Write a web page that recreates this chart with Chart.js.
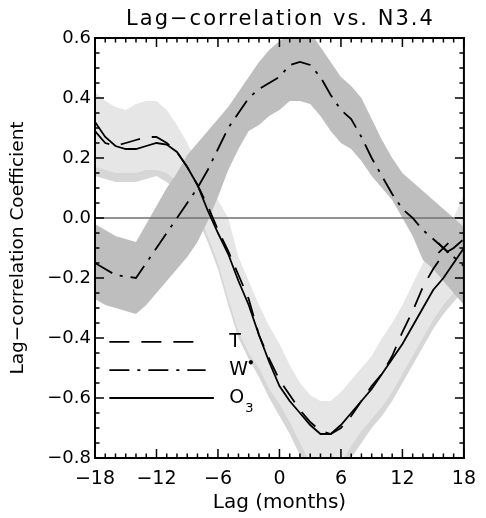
<!DOCTYPE html>
<html>
<head>
<meta charset="utf-8">
<script src="https://cdn.jsdelivr.net/npm/chart.js@4.4.1/dist/chart.umd.min.js"></script>
<style>
  html, body { margin: 0; padding: 0; background: #fff; }
  #wrap { width: 486px; height: 518px; }
</style>
</head>
<body>
<div id="wrap"><canvas id="lagChart"></canvas></div>
<script>
// lag in months
const lags = [-18, -17, -16, -15, -14, -13, -12, -11, -10, -9, -8, -7, -6, -5, -4, -3, -2, -1, 0,
  1, 2, 3, 4, 5, 6, 7, 8, 9, 10, 11, 12, 13, 14, 15, 16, 17, 18];

// lag-correlation coefficients
const tCorr = [0.29, 0.25, 0.24, 0.25, 0.26, 0.27, 0.27, 0.25, 0.22, 0.17, 0.11, 0.04, -0.04, -0.11, -0.19, -0.27, -0.39, -0.47, -0.54,
  -0.59, -0.64, -0.68, -0.71, -0.72, -0.70, -0.66, -0.61, -0.56, -0.52, -0.46, -0.38, -0.31, -0.23, -0.17, -0.12, -0.10, -0.07];
const wCorr = [-0.15, -0.17, -0.19, -0.195, -0.20, -0.15, -0.10, -0.05, 0.00, 0.05, 0.10, 0.16, 0.23, 0.30, 0.35, 0.40, 0.43, 0.45, 0.47,
  0.51, 0.52, 0.51, 0.47, 0.41, 0.36, 0.33, 0.27, 0.20, 0.14, 0.08, 0.03, 0.00, -0.04, -0.07, -0.10, -0.13, -0.16];
const o3Corr = [0.32, 0.27, 0.24, 0.23, 0.23, 0.24, 0.25, 0.245, 0.22, 0.17, 0.11, 0.025, -0.05, -0.12, -0.21, -0.29, -0.39, -0.48, -0.56,
  -0.61, -0.65, -0.69, -0.72, -0.72, -0.69, -0.65, -0.61, -0.57, -0.52, -0.47, -0.42, -0.36, -0.30, -0.24, -0.20, -0.15, -0.10];

// uncertainty bands
const wHigh = [-0.02, -0.04, -0.06, -0.07, -0.08, -0.02, 0.04, 0.10, 0.15, 0.21, 0.25, 0.29, 0.33, 0.37, 0.42, 0.47, 0.52, 0.56, 0.59,
  0.61, 0.63, 0.62, 0.57, 0.52, 0.47, 0.44, 0.40, 0.33, 0.26, 0.20, 0.15, 0.12, 0.09, 0.06, 0.03, 0.00, -0.03];
const wLow = [-0.27, -0.29, -0.30, -0.31, -0.32, -0.29, -0.25, -0.21, -0.17, -0.13, -0.08, -0.01, 0.07, 0.16, 0.23, 0.29, 0.31, 0.34, 0.36,
  0.39, 0.39, 0.38, 0.34, 0.29, 0.25, 0.23, 0.19, 0.14, 0.10, 0.06, 0.00, -0.06, -0.14, -0.17, -0.21, -0.25, -0.29];
const tHigh = [0.42, 0.39, 0.37, 0.36, 0.38, 0.39, 0.39, 0.36, 0.31, 0.25, 0.18, 0.12, 0.06, 0.00, -0.13, -0.21, -0.29, -0.36, -0.42,
  -0.49, -0.55, -0.59, -0.61, -0.61, -0.58, -0.54, -0.50, -0.46, -0.40, -0.35, -0.29, -0.22, -0.15, -0.10, -0.05, 0.00, 0.08];
const tLow = [0.17, 0.16, 0.15, 0.15, 0.15, 0.16, 0.16, 0.15, 0.12, 0.08, 0.03, -0.06, -0.15, -0.27, -0.38, -0.45, -0.50, -0.57, -0.62,
  -0.68, -0.75, -0.82, -0.86, -0.86, -0.82, -0.76, -0.71, -0.67, -0.63, -0.58, -0.52, -0.46, -0.40, -0.34, -0.29, -0.25, -0.21];
const o3High = [0.39, 0.36, 0.34, 0.33, 0.35, 0.36, 0.36, 0.33, 0.28, 0.22, 0.15, 0.09, 0.03, -0.03, -0.16, -0.24, -0.32, -0.39, -0.45,
  -0.52, -0.58, -0.62, -0.64, -0.64, -0.61, -0.57, -0.53, -0.49, -0.43, -0.37, -0.31, -0.24, -0.18, -0.13, -0.08, -0.02, 0.05];
const o3Low = [0.14, 0.13, 0.12, 0.12, 0.12, 0.13, 0.14, 0.12, 0.09, 0.05, 0.00, -0.08, -0.17, -0.29, -0.40, -0.47, -0.53, -0.60, -0.66,
  -0.72, -0.79, -0.85, -0.89, -0.89, -0.86, -0.80, -0.75, -0.70, -0.66, -0.61, -0.55, -0.49, -0.43, -0.37, -0.32, -0.28, -0.24];

const markLag = [16];
const markVal = [-0.10];

const xTicks = [-18, -12, -6, 0, 6, 12, 18];
const yTicks = [-0.8, -0.6, -0.4, -0.2, 0.0, 0.2, 0.4, 0.6];

const chartTitle = 'Lag\u2212correlation vs. N3.4';

const pts = vals => vals.map((v, i) => ({ x: lags[i], y: v }));
const minus = s => s.replace('-', '\u2212');

const legendItems = [
  { label: 'T', dash: [20, 12], y: -0.413, x1: -7.9 },
  { label: 'W', sup: '\u2022', dash: [20, 8, 3, 8], y: -0.507, x1: -7.2 },
  { label: 'O', sub: '3', dash: [], y: -0.60, x1: -6.4 }
];

const frameAndLegend = {
  id: 'frameAndLegend',
  afterDatasetsDraw(chart) {
    const { ctx, chartArea: a, scales: { x, y } } = chart;
    ctx.save();
    ctx.strokeStyle = '#000';
    ctx.lineWidth = 1.5;
    ctx.beginPath();
    for (let m = xTicks[0]; m <= xTicks[xTicks.length - 1]; m++) {
      const px = x.getPixelForValue(m);
      const len = m % 6 === 0 ? 9 : 4.5;
      ctx.moveTo(px, a.bottom); ctx.lineTo(px, a.bottom - len);
      ctx.moveTo(px, a.top); ctx.lineTo(px, a.top + len);
    }
    for (let i = 0; i <= 28; i++) {
      const py = y.getPixelForValue(yTicks[0] + i * 0.05);
      const len = i % 4 === 0 ? 9 : 4.5;
      ctx.moveTo(a.left, py); ctx.lineTo(a.left + len, py);
      ctx.moveTo(a.right, py); ctx.lineTo(a.right - len, py);
    }
    ctx.stroke();
    ctx.lineWidth = 2;
    ctx.strokeRect(a.left, a.top, a.width, a.height);

    // title, centred over the plot area
    ctx.fillStyle = '#000';
    ctx.font = '21px "DejaVu Sans"';
    ctx.letterSpacing = '2px';
    ctx.textAlign = 'center';
    ctx.textBaseline = 'middle';
    ctx.fillText(chartTitle, (a.left + a.right) / 2 + 1, 20);
    ctx.letterSpacing = '0px';
    ctx.textAlign = 'left';

    // legend
    const x0 = x.getPixelForValue(-16.6);
    const tx = x.getPixelForValue(-4.9);
    ctx.lineWidth = 1.8;
    legendItems.forEach(it => {
      const py = y.getPixelForValue(it.y);
      ctx.setLineDash(it.dash);
      ctx.beginPath();
      ctx.moveTo(x0, py);
      ctx.lineTo(x.getPixelForValue(it.x1), py);
      ctx.stroke();
      ctx.setLineDash([]);
      ctx.font = '19px "DejaVu Sans"';
      ctx.fillText(it.label, tx, py);
      const w = ctx.measureText(it.label).width;
      if (it.sup) {
        ctx.font = 'bold 12px "DejaVu Sans"';
        ctx.fillText(it.sup, tx + w - 1, py - 6);
      }
      if (it.sub) {
        ctx.font = '13px "DejaVu Sans"';
        ctx.fillText(it.sub, tx + w + 1, py + 11);
      }
    });
    ctx.restore();
  }
};

const lineStyle = { pointRadius: 0, borderCapStyle: 'butt', fill: false };

new Chart(document.getElementById('lagChart'), {
  type: 'line',
  data: {
    datasets: [
      { label: 'O3 band', data: pts(o3High), borderWidth: 0, pointRadius: 0, backgroundColor: '#d6d6d6', fill: '+1', order: 8 },
      { label: 'O3 band low', data: pts(o3Low), borderWidth: 0, pointRadius: 0, fill: false, order: 8 },
      { label: 'T band', data: pts(tHigh), borderWidth: 0, pointRadius: 0, backgroundColor: '#e6e6e6', fill: '+1', order: 7 },
      { label: 'T band low', data: pts(tLow), borderWidth: 0, pointRadius: 0, fill: false, order: 7 },
      { label: 'W band', data: pts(wHigh), borderWidth: 0, pointRadius: 0, backgroundColor: '#bebebe', fill: '+1', order: 6 },
      { label: 'W band low', data: pts(wLow), borderWidth: 0, pointRadius: 0, fill: false, order: 6 },
      { label: 'zero', data: [{ x: lags[0], y: 0 }, { x: lags[lags.length - 1], y: 0 }], borderColor: '#707070', borderWidth: 1.5, ...lineStyle, order: 5 },
      { label: 'T', data: pts(tCorr), borderColor: '#000', borderWidth: 1.8, borderDash: [20, 12], ...lineStyle, order: 3 },
      { label: 'W*', data: pts(wCorr), borderColor: '#000', borderWidth: 1.8, borderDash: [20, 8, 3, 8], ...lineStyle, order: 2 },
      { label: 'O3', data: pts(o3Corr), borderColor: '#000', borderWidth: 1.8, ...lineStyle, order: 1 },
      { label: 'mark', data: markLag.map((m, i) => ({ x: m, y: markVal[i] })), showLine: false,
        pointStyle: 'crossRot', pointRadius: 7, borderColor: '#000', pointBorderWidth: 1.8, order: 0 }
    ]
  },
  options: {
    responsive: true,
    maintainAspectRatio: false,
    animation: false,
    events: [],
    layout: { padding: { left: 0, right: 12, top: 38, bottom: 0 } },
    plugins: {
      legend: { display: false },
      tooltip: { enabled: false },
      title: { display: false }
    },
    scales: {
      x: {
        type: 'linear',
        min: -18,
        max: 18,
        afterBuildTicks: s => { s.ticks = xTicks.map(v => ({ value: v })); },
        afterFit: s => { s.height = 60; },
        grid: { display: false, drawTicks: false },
        border: { display: false },
        ticks: {
          color: '#000',
          padding: 10,
          maxRotation: 0,
          font: { family: 'DejaVu Sans', size: 19 },
          callback: v => minus(String(v))
        },
        title: {
          display: true,
          text: 'Lag (months)',
          color: '#000',
          font: { family: 'DejaVu Sans', size: 20 },
          padding: { top: 0, bottom: 3 }
        }
      },
      y: {
        min: -0.8,
        max: 0.6,
        afterBuildTicks: s => { s.ticks = yTicks.map(v => ({ value: v })); },
        afterFit: s => { s.width = 95; },
        grid: { display: false, drawTicks: false },
        border: { display: false },
        ticks: {
          color: '#000',
          padding: 4,
          font: { family: 'DejaVu Sans', size: 18 },
          callback: v => minus(v.toFixed(1))
        },
        title: {
          display: true,
          text: 'Lag\u2212correlation Coefficient',
          color: '#000',
          font: { family: 'DejaVu Sans', size: 18.5 },
          padding: { top: 7, bottom: 0 }
        }
      }
    }
  },
  plugins: [frameAndLegend]
});
</script>
</body>
</html>
